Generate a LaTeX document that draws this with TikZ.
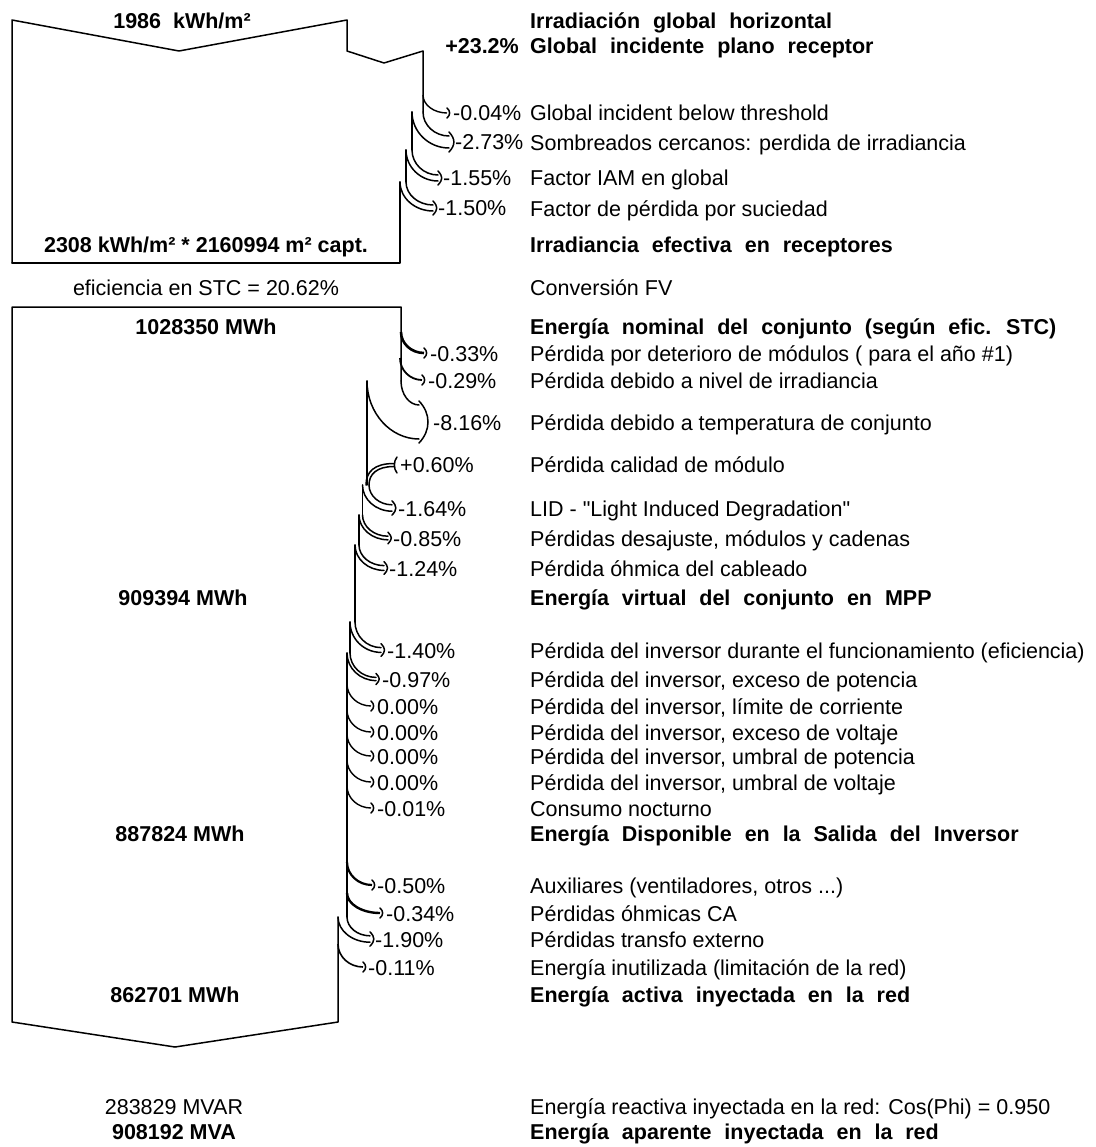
\documentclass[tikz,border=0pt]{standalone}
\usepackage{fontspec}
\setmainfont{Liberation Sans}
\newfontfamily\rawq{Liberation Sans}
\newcommand\fsz{\fontsize{21.5}{25}\selectfont}
\newcommand\lossone[5]{%
  \draw[line width=#5] (#1,#2) .. controls (#1,{#2+0.55*(#4-#2)}) and ({#1+0.45*(#3-#1)},#4) .. (#3,#4);
  \draw[ln] (#3,{#4-5}) .. controls ({#3+3.5},{#4-2}) and ({#3+3.5},{#4+2}) .. (#3,{#4+5});
}
\newcommand\losstwo[6]{%
  \draw[ln] (#1,#3) .. controls (#1,{#3+0.55*(#5-#6-#3)}) and ({#1+0.45*(#4-#1)},{#5-#6}) .. (#4,{#5-#6});
  \draw[ln] (#2,#3) .. controls (#2,{#3+0.55*(#5+#6-#3)}) and ({#2+0.45*(#4-#2)},{#5+#6}) .. (#4,{#5+#6});
  \draw[ln] (#4,{#5-#6-4}) .. controls ({#4+3.5+0.5*#6},{#5-0.5*#6}) and ({#4+3.5+0.5*#6},{#5+0.5*#6}) .. (#4,{#5+#6+4});
}
\tikzset{
  ln/.style={line width=1.5pt, line join=round, line cap=round},
  lbl/.style={anchor=base west, inner sep=0pt, font={\fsz}},
  blbl/.style={anchor=base west, inner sep=0pt, font={\fsz\bfseries\spaceskip=0.6em\relax}},
  pct/.style={anchor=base west, inner sep=0pt, font={\fsz}},
  val/.style={anchor=base, inner sep=0pt, font={\fsz\bfseries}},
  rval/.style={anchor=base, inner sep=0pt, font={\fsz}},
}
\begin{document}
\begin{tikzpicture}[x=1pt,y=-1pt]
\fill[white] (0,0) rectangle (1095,1147);
\useasboundingbox (0,0) rectangle (1095,1147);

% ---------- top block (irradiance) ----------
\draw[ln] (12,263) -- (12,20) -- (179,51) -- (347,20) -- (347,51) -- (384,63) -- (423,51) -- (423,112);
\draw[ln] (412,112) -- (412,150);
\draw[ln] (406,150) -- (406,182);
\draw[ln] (400,182) -- (400,263) -- (12,263);
\lossone{423}{95}{447}{113}{1.4pt}
\losstwo{423}{412}{112}{449}{142}{6}
\losstwo{412}{406}{150}{438}{178}{3}
\losstwo{406}{400}{182}{433}{208}{3}

% ---------- energy block ----------
\draw[ln] (401,381) -- (401,307) -- (12,307) -- (12,1022) -- (175,1047) -- (338,1022) -- (338,917);
\draw[ln] (367,381) -- (367,485);
\draw[ln] (362.5,485) -- (362.5,515);
\draw[ln] (359,515) -- (359,545);
\draw[ln] (355,545) -- (355,622);
\draw[ln] (350,622) -- (350,653);
\draw[ln] (347,653) -- (347,917);
\lossone{401}{332}{424}{353}{2.6pt}
\lossone{400}{358}{422}{380}{1.8pt}
\losstwo{401}{367}{381}{419}{422}{17}
% gain +0.60%
\draw[ln] (394,463.5) .. controls (374,463.5) and (366,472) .. (366,485);
\draw[ln] (394,466.5) .. controls (377,466.5) and (369,474) .. (369,485);
\draw[ln] (397,457) .. controls (393.5,461) and (393.5,469) .. (397,473);
\losstwo{369}{362.5}{485}{392}{508}{3.2}
\losstwo{362.5}{359}{515}{388}{538}{1.8}
\losstwo{359}{355}{545}{384}{568}{2.4}
\losstwo{355}{350}{622}{381}{650}{2.4}
\losstwo{350}{347}{653}{376}{679}{1.6}
\lossone{347}{684}{371}{706}{1.4pt}
\lossone{347}{710}{371}{732}{1.4pt}
\lossone{347}{734}{371}{756}{1.4pt}
\lossone{347}{760}{371}{782}{1.4pt}
\lossone{347}{786}{371}{808}{1.4pt}
\lossone{347}{862}{372}{885}{2.2pt}
\lossone{347}{893}{380}{913}{2.4pt}
\losstwo{347}{338}{917}{370}{939}{3.2}
\lossone{338}{944}{363}{967}{1.6pt}

% ---------- left values ----------
\node[val]  (v1) at (182,29) {1986~~kWh/m²};
\node[val]  (v2) at (206,253) {2308 kWh/m² * 2160994 m² capt.};
\node[rval] (v3) at (206,295) {eficiencia en STC = 20.62\%};
\node[val]  (v4) at (206,334) {1028350 MWh};
\node[val]  (v5) at (183,605) {909394 MWh};
\node[val]  (v6) at (180,841) {887824 MWh};
\node[val]  (v7) at (175,1002) {862701 MWh};
\node[rval] (v8) at (174,1114) {283829 MVAR};
\node[val]  (v9) at (174,1139) {908192 MVA};

% ---------- percentages ----------
\node[anchor=base east, inner sep=0pt, font={\fsz\bfseries}] (p0) at (519,54) {+23.2\%};
\node[pct] (p1) at (453,121) {-0.04\%};
\node[pct] (p2) at (455,150) {-2.73\%};
\node[pct] (p3) at (443,186) {-1.55\%};
\node[pct] (p4) at (438,216) {-1.50\%};
\node[pct] (p5) at (430,361) {-0.33\%};
\node[pct] (p6) at (428,388) {-0.29\%};
\node[pct] (p7) at (433,430) {-8.16\%};
\node[pct] (p8) at (400,472) {+0.60\%};
\node[pct] (p9) at (398,516) {-1.64\%};
\node[pct] (p10) at (393,546) {-0.85\%};
\node[pct] (p11) at (389,576) {-1.24\%};
\node[pct] (p12) at (387,658) {-1.40\%};
\node[pct] (p13) at (382,687) {-0.97\%};
\node[pct] (p14) at (377,714) {0.00\%};
\node[pct] (p15) at (377,740) {0.00\%};
\node[pct] (p16) at (377,764) {0.00\%};
\node[pct] (p17) at (377,790) {0.00\%};
\node[pct] (p18) at (377,816) {-0.01\%};
\node[pct] (p19) at (377,893) {-0.50\%};
\node[pct] (p20) at (386,921) {-0.34\%};
\node[pct] (p21) at (375,947) {-1.90\%};
\node[pct] (p22) at (368,975) {-0.11\%};

% ---------- right labels ----------
\node[blbl] (r1) at (530,29) {Irradiación global horizontal};
\node[blbl] (r2) at (530,54) {Global incidente plano receptor};
\node[lbl] (r3) at (530,121) {Global incident below threshold};
\node[lbl] (r4) at (530,151) {Sombreados cercanos: perdida de irradiancia};
\node[lbl] (r5) at (530,186) {Factor IAM en global};
\node[lbl] (r6) at (530,217) {Factor de pérdida por suciedad};
\node[blbl] (r7) at (530,253) {Irradiancia efectiva en receptores};
\node[lbl] (r8) at (530,295) {Conversión FV};
\node[blbl] (r9) at (530,334) {Energía nominal del conjunto (según efic. STC)};
\node[lbl] (r10) at (530,361) {Pérdida por deterioro de módulos ( para el año \#1)};
\node[lbl] (r11) at (530,388) {Pérdida debido a nivel de irradiancia};
\node[lbl] (r12) at (530,430) {Pérdida debido a temperatura de conjunto};
\node[lbl] (r13) at (530,472) {Pérdida calidad de módulo};
\node[lbl] (r14) at (530,516) {LID - {\rawq"}Light Induced Degradation{\rawq"}};
\node[lbl] (r15) at (530,546) {Pérdidas desajuste, módulos y cadenas};
\node[lbl] (r16) at (530,576) {Pérdida óhmica del cableado};
\node[blbl] (r17) at (530,605) {Energía virtual del conjunto en MPP};
\node[lbl] (r18) at (530,658) {Pérdida del inversor durante el funcionamiento (eficiencia)};
\node[lbl] (r19) at (530,687) {Pérdida del inversor, exceso de potencia};
\node[lbl] (r20) at (530,714) {Pérdida del inversor, límite de corriente};
\node[lbl] (r21) at (530,740) {Pérdida del inversor, exceso de voltaje};
\node[lbl] (r22) at (530,764) {Pérdida del inversor, umbral de potencia};
\node[lbl] (r23) at (530,790) {Pérdida del inversor, umbral de voltaje};
\node[lbl] (r24) at (530,816) {Consumo nocturno};
\node[blbl] (r25) at (530,841) {Energía Disponible en la Salida del Inversor};
\node[lbl] (r26) at (530,893) {Auxiliares (ventiladores, otros ...)};
\node[lbl] (r27) at (530,921) {Pérdidas óhmicas CA};
\node[lbl] (r28) at (530,947) {Pérdidas transfo externo};
\node[lbl] (r29) at (530,975) {Energía inutilizada (limitación de la red)};
\node[blbl] (r30) at (530,1002) {Energía activa inyectada en la red};
\node[lbl] (r31) at (530,1114) {Energía reactiva inyectada en la red: Cos(Phi) = 0.950};
\node[blbl] (r32) at (530,1139) {Energía aparente inyectada en la red};
\end{tikzpicture}
\end{document}
